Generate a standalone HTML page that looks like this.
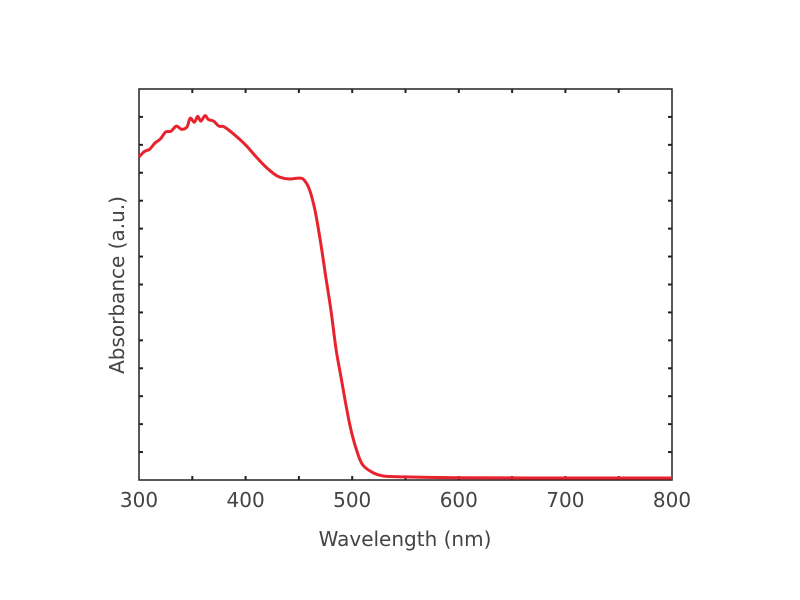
<!DOCTYPE html>
<html><head><meta charset="utf-8"><style>
body{margin:0;background:#fff;}
svg{display:block;font-family:"DejaVu Sans","Liberation Sans",sans-serif;}
</style></head><body>
<svg id="chart" width="800" height="600">
<g id="ticks"></g>
<rect x="139" y="89" width="533" height="391" fill="none" stroke="#222" stroke-width="1.5"/>
<path id="curve" fill="none" stroke="#e8232d" stroke-width="3" stroke-linejoin="round"/>
<text x="405" y="546" text-anchor="middle" font-size="20" fill="#444">Wavelength (nm)</text>
<text transform="translate(124,285) rotate(-90)" text-anchor="middle" font-size="20" fill="#444">Absorbance (a.u.)</text>
</svg>
<script>
const wavelengths=[300,305,310,315,320,325,330,335,340,345,348,352,355,358,362,365,370,375,380,390,400,410,420,430,440,450,455,460,465,470,475,480,485,490,495,500,505,510,520,530,550,600,700,800];
const absorbance=[0.826,0.840,0.846,0.862,0.872,0.890,0.892,0.905,0.897,0.903,0.925,0.915,0.930,0.918,0.932,0.922,0.918,0.905,0.903,0.882,0.857,0.826,0.798,0.777,0.770,0.772,0.767,0.742,0.691,0.614,0.524,0.435,0.332,0.256,0.179,0.115,0.069,0.038,0.018,0.010,0.008,0.006,0.005,0.005];
const xTicks=[300,400,500,600,700,800];
const xMin=300,xMax=800,L=139,R=672,T=89,B=480;
const xs=v=>L+(v-xMin)/(xMax-xMin)*(R-L);
const ys=v=>B-v*(B-T);
const ns="http://www.w3.org/2000/svg";
const pts=wavelengths.map((w,i)=>[xs(w),ys(absorbance[i])]);
let d='M'+pts[0][0].toFixed(1)+','+pts[0][1].toFixed(1);
for(let i=0;i<pts.length-1;i++){
  const p0=pts[Math.max(0,i-1)],p1=pts[i],p2=pts[i+1],p3=pts[Math.min(pts.length-1,i+2)];
  const c1=[p1[0]+(p2[0]-p0[0])/6,p1[1]+(p2[1]-p0[1])/6];
  const c2=[p2[0]-(p3[0]-p1[0])/6,p2[1]-(p3[1]-p1[1])/6];
  d+='C'+c1[0].toFixed(1)+','+c1[1].toFixed(1)+' '+c2[0].toFixed(1)+','+c2[1].toFixed(1)+' '+p2[0].toFixed(1)+','+p2[1].toFixed(1);
}
document.getElementById('curve').setAttribute('d',d);
const g=document.getElementById('ticks');
function line(x1,y1,x2,y2){const l=document.createElementNS(ns,'line');l.setAttribute('x1',x1);l.setAttribute('y1',y1);l.setAttribute('x2',x2);l.setAttribute('y2',y2);l.setAttribute('stroke','#222');l.setAttribute('stroke-width','2');


g.appendChild(l);}
for(let w=350;w<800;w+=50){const x=xs(w);line(x,B,x,B-4);line(x,T,x,T+4);}
for(let k=1;k<14;k++){const y=B-k*(B-T)/14;line(L,y,L+4,y);line(R,y,R-4,y);}
xTicks.forEach(w=>{const t=document.createElementNS(ns,'text');t.setAttribute('x',xs(w));t.setAttribute('y',507);t.setAttribute('text-anchor','middle');t.setAttribute('font-size','20');t.setAttribute('fill','#444');t.textContent=w;


document.getElementById('chart').appendChild(t);});
</script>
</body></html>
